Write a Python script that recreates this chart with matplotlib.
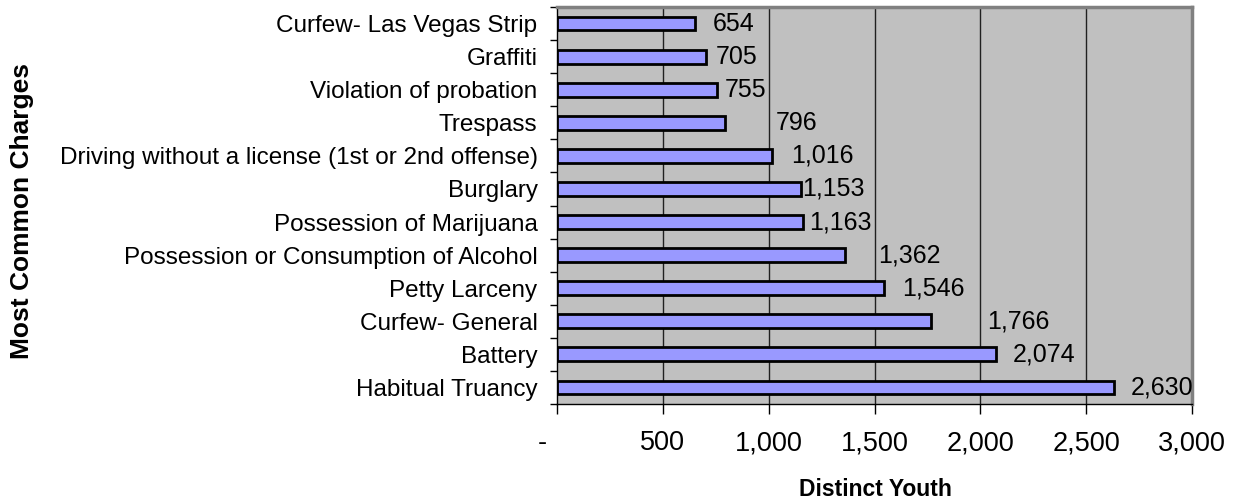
import matplotlib
matplotlib.use("Agg")
import matplotlib.pyplot as plt
from matplotlib.ticker import FixedLocator
from matplotlib.transforms import ScaledTranslation

plt.rcParams["font.family"] = ["Liberation Sans", "DejaVu Sans"]

# data, listed bottom to top as drawn
charges = [
    "Habitual Truancy",
    "Battery",
    "Curfew- General",
    "Petty Larceny",
    "Possession or Consumption of Alcohol",
    "Possession of Marijuana",
    "Burglary",
    "Driving without a license (1st or 2nd offense)",
    "Trespass",
    "Violation of probation",
    "Graffiti",
    "Curfew- Las Vegas Strip",
]
youth = [2630, 2074, 1766, 1546, 1362, 1163, 1153, 1016, 796, 755, 705, 654]
x_ticks = [0, 500, 1000, 1500, 2000, 2500, 3000]
x_tick_labels = ["-", "500", "1,000", "1,500", "2,000", "2,500", "3,000"]

# label gaps in pixels (labels were nudged by hand in the original)
label_gap_px = [17, 17, 56, 18, 33, 6, 1, 19, 50, 8, 10, 17]

fig = plt.figure(figsize=(12.46, 5.03), dpi=100)
ax = fig.add_axes([557 / 1246, 1 - 404 / 503, (1192 - 557) / 1246, (404 - 7) / 503])
ax.set_facecolor("#C0C0C0")

pos = list(range(len(charges)))
ax.barh(pos, youth, height=0.42, color="#9999FF", edgecolor="black", linewidth=2, zorder=3)

ax.set_xlim(0, 3000)
ax.set_ylim(-0.5, len(charges) - 0.5)

for x in x_ticks[1:-1]:
    ax.axvline(x, color="#202020", linewidth=1, zorder=1)

for p, v, g in zip(pos, youth, label_gap_px):
    ax.annotate(f"{v:,}", (v, p), xytext=(g * 0.72, 0), textcoords="offset points",
                ha="left", va="center", fontsize=18, zorder=4)

# category labels sit between tick marks, Excel style
ax.set_yticks(pos)
ax.set_yticklabels(charges, fontsize=17.5)
ax.tick_params(axis="y", which="major", length=0, pad=14)
ax.yaxis.set_minor_locator(FixedLocator([p - 0.5 for p in pos] + [pos[-1] + 0.5]))
ax.tick_params(axis="y", which="minor", length=5, width=1, direction="out")

ax.set_xticks(x_ticks)
ax.set_xticklabels(x_tick_labels, fontsize=19.5)
ax.tick_params(axis="x", length=7, width=1, direction="out", pad=12)
first = ax.get_xticklabels()[0]
first.set_transform(first.get_transform() + ScaledTranslation(-15 / 100, 0, fig.dpi_scale_trans))

for side in ["top", "right"]:
    ax.spines[side].set_color("#808080")
    ax.spines[side].set_linewidth(2.5)
for side in ["left", "bottom"]:
    ax.spines[side].set_color("black")
    ax.spines[side].set_linewidth(1)

fig.text(875 / 1246, 1 - 489 / 503, "Distinct Youth", ha="center", va="center",
         fontsize=16.5, fontweight="bold")
fig.text(22 / 1246, 1 - 211 / 503, "Most Common Charges", ha="center", va="center",
         rotation=90, fontsize=19, fontweight="bold")

fig.savefig("out.png", dpi=100)
